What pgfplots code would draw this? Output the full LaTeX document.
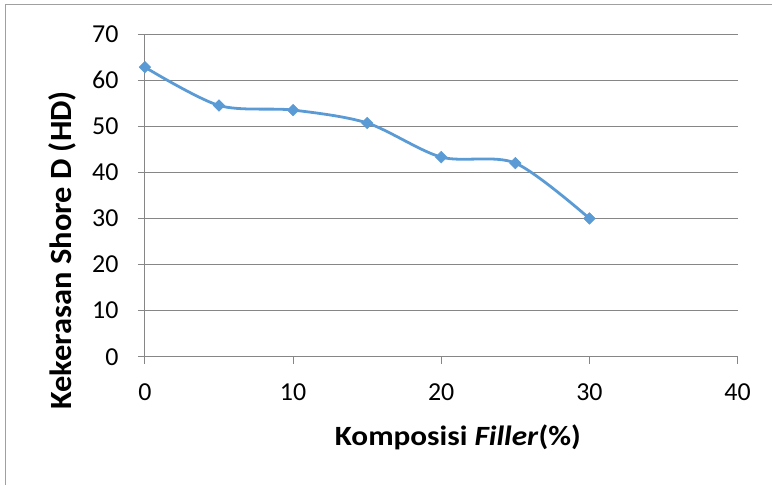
\documentclass[border=0pt]{standalone}
\usepackage{fontspec}
\setmainfont{Carlito}
\newfontfamily\labelfont{Carlito}[FakeStretch=1.12]
\newfontfamily\ylabelfont{Carlito}[FakeStretch=1.05]
\usepackage{pgfplots}
\pgfplotsset{compat=1.18}
\definecolor{lineblue}{RGB}{91,155,213}
\definecolor{gridgray}{RGB}{134,134,134}
\definecolor{framegray}{RGB}{160,160,160}
\begin{document}
\begin{tikzpicture}
\path (-145bp,-128bp) rectangle (627bp,357bp);
\draw[framegray, line width=0.9bp] (-140bp,-128bp) -- (-140bp,353bp) -- (627bp,353bp);
\begin{axis}[
  at={(0,0)}, anchor=south west,
  scale only axis, width=593bp, height=323bp,
  xmin=0, xmax=40, ymin=0, ymax=70,
  xtick={0,10,20,30,40}, ytick={0,10,20,30,40,50,60,70},
  axis x line*=bottom, axis y line*=left,
  axis line style={gridgray, line width=0.9bp, -},
  ymajorgrids, grid style={gridgray, line width=0.9bp},
  tick align=outside, major tick length=7bp,
  tick style={gridgray, line width=0.9bp},
  /pgf/number format/assume math mode=true,
  ticklabel style={font=\fontsize{26}{30}\selectfont, text=black},
  xticklabel style={yshift=-16bp},
  yticklabel style={xshift=-16bp},
  xlabel={\textbf{Komposisi \textit{Filler}(\%)}},
  xlabel style={at={(axis description cs:0.528,-0.248)}, anchor=center, font=\labelfont\fontsize{28}{32}\selectfont},
  ylabel={\textbf{Kekerasan Shore D (HD)}},
  ylabel style={at={(axis description cs:-0.140,0.33)}, anchor=center, font=\ylabelfont\fontsize{31}{35}\selectfont},
]
\addplot[lineblue, line width=2.8bp, smooth, mark=square*, mark size=4.1bp,
  mark options={rotate=45, fill=lineblue, draw=lineblue, line width=0.5bp}]
  coordinates {(0,62.8) (5,54.5) (10,53.5) (15,50.7) (20,43.3) (25,42.0) (30,30.0)};
\end{axis}
\end{tikzpicture}
\end{document}
